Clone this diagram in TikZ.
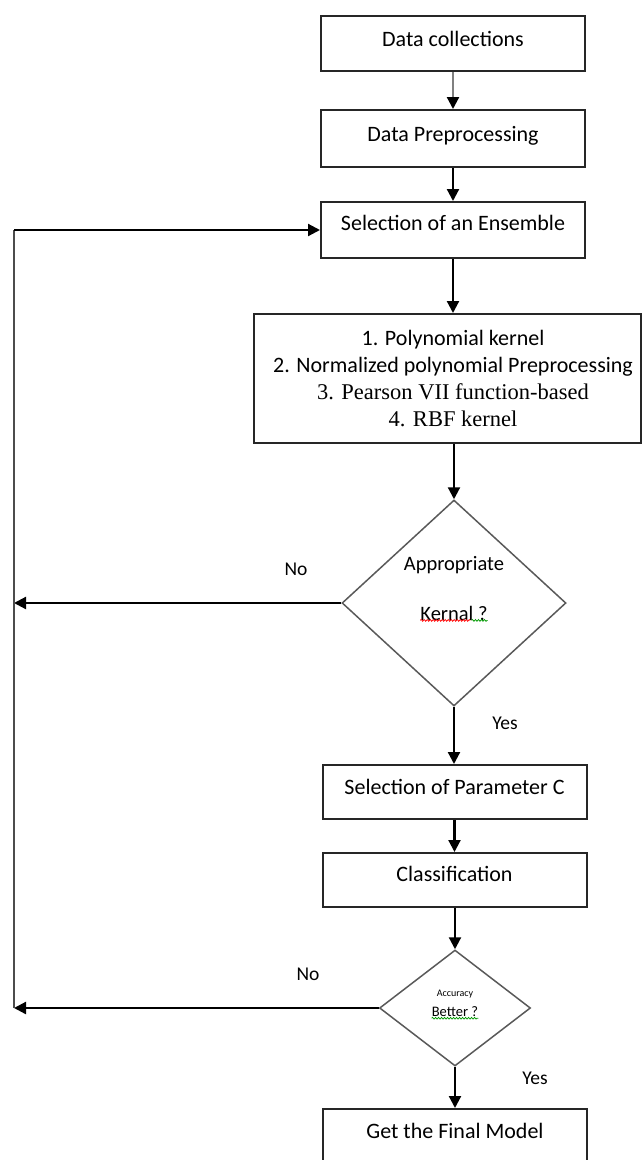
\documentclass[tikz,border=0pt]{standalone}
\usepackage{fontspec}
\setmainfont{Carlito}
\newfontfamily\tnr{Liberation Serif}
\usetikzlibrary{shapes.geometric,arrows.meta,decorations.pathmorphing,calc}
\begin{document}
\begin{tikzpicture}[x=1pt,y=-1pt,
  box/.style={draw=black!85, line width=2pt, inner sep=0pt, minimum width=264pt,
    font=\fontsize{22}{26}\selectfont, text height=15pt},
  dia/.style={draw=black!65, line width=1.5pt, diamond, inner sep=0pt},
  arr/.style={line width=2.2pt, -{Triangle[length=12pt,width=12pt]}},
  lbl/.style={font=\fontsize{19.5}{22}\selectfont, inner sep=0pt},
  dtxt/.style={font=\fontsize{20.5}{24}\selectfont, inner sep=0pt},
  wavy/.style={line width=0.7pt, decorate, decoration={snake, amplitude=0.9pt, segment length=3pt}}
]
\useasboundingbox (0,0) rectangle (642,1160);
\clip (0,0) rectangle (642,1160);

% boxes
\node[box, minimum height=55pt, text depth=10pt] (dc) at (453,43.5) {Data collections};
\node[box, minimum height=57pt, text depth=10pt] (dp) at (453,138.5) {Data Preprocessing};
\node[box, minimum height=56pt, text depth=15pt] (se) at (453,230) {Selection of an Ensemble};
\node[draw=black!85, line width=2pt, inner sep=0pt, minimum width=387pt, minimum height=129pt,
  align=center, font=\fontsize{22}{27.3}\selectfont] (big) at (447.5,378.5)
  {\hspace*{11pt}1. Polynomial kernel\\
   \hspace*{11pt}2. Normalized polynomial Preprocessing\\
   \hspace*{11pt}{\tnr\fontsize{22.5}{27.3}\selectfont 3. Pearson VII function-based}\\
   \hspace*{11pt}{\tnr\fontsize{22.5}{27.3}\selectfont 4. RBF kernel}};

% decision 1
\node[dia, minimum width=224pt, minimum height=206pt] (d1) at (454,603) {};
\node[dtxt] (d1a) at (454,565) {Appropriate};
\node[dtxt] (d1b) at (454,613) {Kernal ?};
\draw[wavy, red] (d1b.south west) -- ($(d1b.south west)!0.74!(d1b.south east)$);
\draw[wavy, green!60!black] ($(d1b.south west)!0.76!(d1b.south east)$) -- (d1b.south east);

\node[box, minimum height=54pt, text depth=11pt] (pc) at (454.5,792) {Selection of Parameter C};
\node[box, minimum height=54pt, text depth=13pt] (cl) at (454.5,880) {Classification};

% decision 2
\node[dia, minimum width=151pt, minimum height=116pt] (d2) at (455,1008) {};
\node[font=\fontsize{10}{12}\selectfont, inner sep=0pt] (d2a) at (455,994) {Accuracy};
\node[font=\fontsize{14.5}{17}\selectfont, inner sep=0pt] (d2b) at (455,1012) {Better ?};
\draw[wavy, green!60!black] ($(d2b.south west)+(0,1)$) -- ($(d2b.south east)+(0,1)$);

\node[box, minimum height=61pt, text depth=18pt] (fm) at (455,1139.5) {Get the Final Model};

% labels
\node[lbl] (no1) at (296,569) {No};
\node[lbl] (yes1) at (505,723) {Yes};
\node[lbl] (no2) at (308,974) {No};
\node[lbl] (yes2) at (535,1078) {Yes};

% loop line
\coordinate (lt) at (14,230);
\coordinate (lb) at (14,1008);

% connectors
\draw[line width=2.2pt, black!50, -{Triangle[length=12pt,width=12pt,color=black]}] (dc.south) -- (dp.north);
\draw[arr] (dp.south) -- (se.north);
\draw[arr] (se.south) -- (se.south |- big.north);
\draw[arr] (d1.north |- big.south) -- (d1.north);
\draw[arr] (d1.south) -- (d1.south |- pc.north);
\draw[arr] (pc.south) -- (cl.north);
\draw[arr] (cl.south -| d2.north) -- (d2.north);
\draw[arr] (d2.south) -- (d2.south |- fm.north);
\draw[arr] (d1.west) -- (d1.west -| lt);
\draw[arr] (d2.west) -- (d2.west -| lt);
\draw[line width=2.2pt, black!70] (lb) -- (lt);
\draw[arr] (lt) -- (se.west);
\end{tikzpicture}
\end{document}
